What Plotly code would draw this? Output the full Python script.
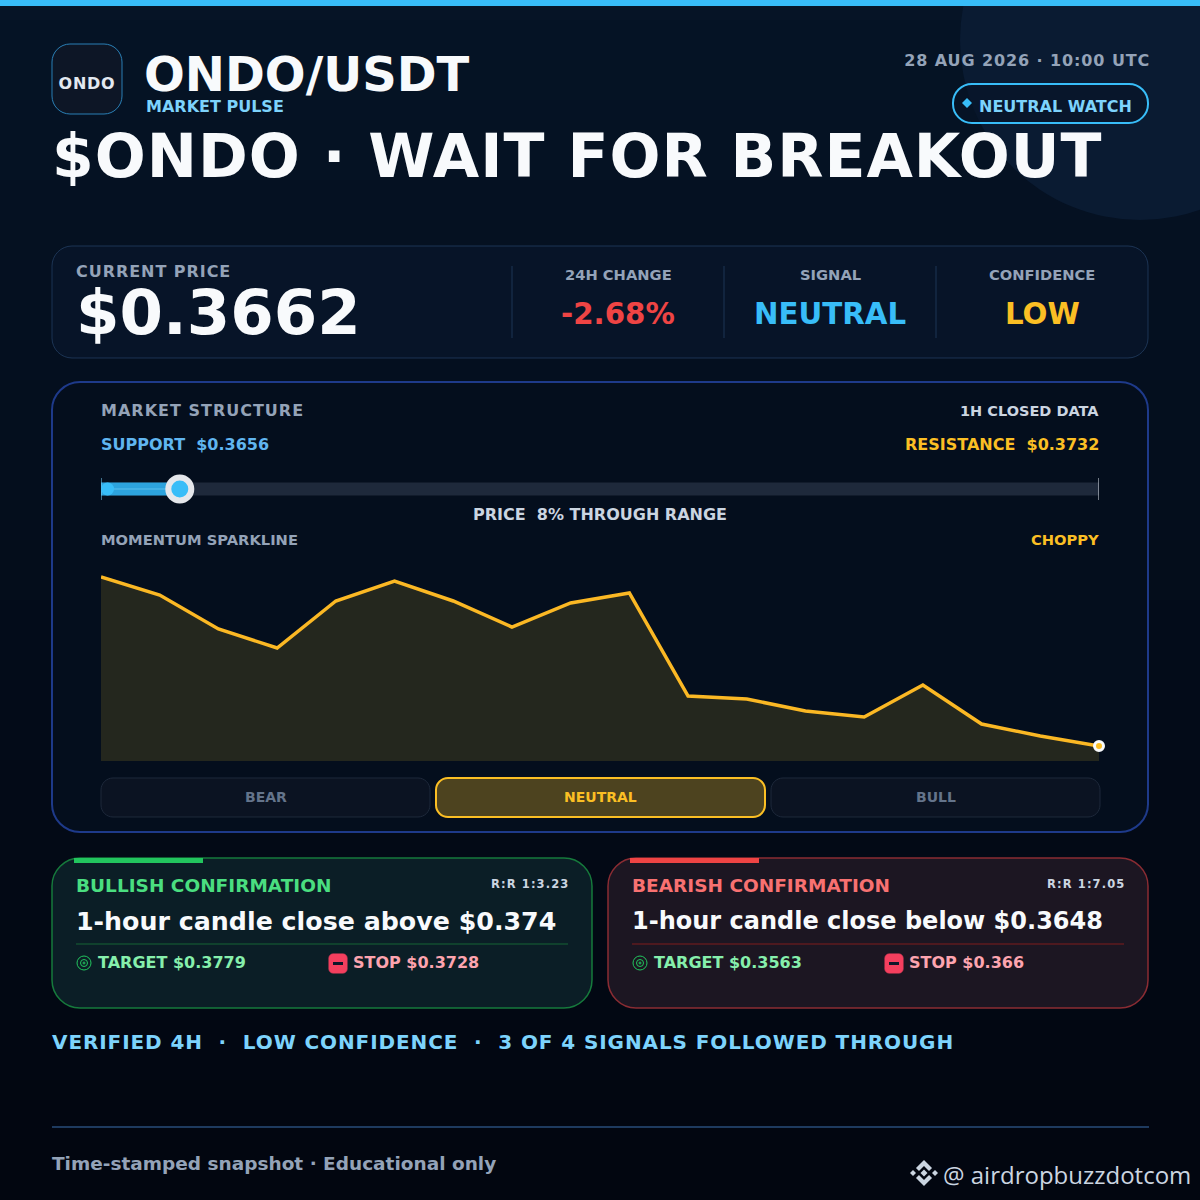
import json
import plotly.graph_objects as go

# values
pair = "ONDO/USDT"
headline = "$ONDO · WAIT FOR BREAKOUT"
stamp = "28 AUG 2026 · 10:00 UTC"
price = 0.3662
support = 0.3656
resistance = 0.3732
slider_start = 0.36565
change = "-2.68%"
range_pct = 8
momentum = [184, 166, 132, 113, 160, 180, 160, 134, 158, 168, 65, 62, 50, 44, 76, 37, 25, 15]
momentum_x = list(range(len(momentum)))
pills = ["BEAR", "NEUTRAL", "BULL"]
bull_levels = ["$0.374", "$0.3779", "$0.3728", "1:3.23"]
bear_levels = ["$0.3648", "$0.3563", "$0.366", "1:7.05"]

W = 1200
font = "DejaVu Sans"
shapes = []
notes = []
spacing = []


def px(x):
    return x / W


def py(y):
    return 1 - y / W


def rrect(x0, y0, x1, y1, r):
    k = r * 0.45
    pts = [
        ("M", x0 + r, y0), ("L", x1 - r, y0),
        ("C", x1 - k, y0, x1, y0 + k, x1, y0 + r), ("L", x1, y1 - r),
        ("C", x1, y1 - k, x1 - k, y1, x1 - r, y1), ("L", x0 + r, y1),
        ("C", x0 + k, y1, x0, y1 - k, x0, y1 - r), ("L", x0, y0 + r),
        ("C", x0, y0 + k, x0 + k, y0, x0 + r, y0),
    ]
    out = ""
    for p in pts:
        nums = p[1:]
        coords = []
        for i in range(0, len(nums), 2):
            coords.append("%.5f,%.5f" % (px(nums[i]), py(nums[i + 1])))
        out += p[0] + " ".join(coords) + " "
    return out + "Z"


def card(x0, y0, x1, y1, r, fill, line, lw=1):
    shapes.append(dict(type="path", path=rrect(x0, y0, x1, y1, r), xref="paper", yref="paper",
                       fillcolor=fill, line=dict(color=line, width=lw), layer="below"))


def box(x0, y0, x1, y1, fill):
    shapes.append(dict(type="rect", x0=px(x0), x1=px(x1), y0=py(y0), y1=py(y1), xref="paper", yref="paper",
                       fillcolor=fill, line=dict(width=0), layer="below"))


def hline(x0, y0, x1, y1, color, lw=1):
    shapes.append(dict(type="line", x0=px(x0), x1=px(x1), y0=py(y0), y1=py(y1), xref="paper", yref="paper",
                       line=dict(color=color, width=lw), layer="below"))


def circle(cx, cy, r, fill="rgba(0,0,0,0)", line=None, lw=1):
    shapes.append(dict(type="circle", x0=px(cx - r), x1=px(cx + r), y0=py(cy + r), y1=py(cy - r),
                       xref="paper", yref="paper", fillcolor=fill,
                       line=dict(color=line or fill, width=lw if line else 0), layer="below"))


def poly(points, fill):
    path = "M" + " L".join("%.5f,%.5f" % (px(x), py(y)) for x, y in points) + " Z"
    shapes.append(dict(type="path", path=path, xref="paper", yref="paper", fillcolor=fill,
                       line=dict(width=0), layer="below"))


def diamond(cx, cy, r, fill):
    poly([(cx, cy - r), (cx + r, cy), (cx, cy + r), (cx - r, cy)], fill)


def label(x, y, text, size, color, anchor="left", weight=700, family=font, ls=0):
    notes.append(dict(x=px(x), y=py(y), xref="paper", yref="paper", text=text, showarrow=False,
                      xanchor=anchor, yanchor="middle", borderpad=0, borderwidth=0,
                      font=dict(family=family, size=size, color=color, weight=weight)))
    spacing.append([ls, anchor])


# background
bands = 60
for i in range(bands):
    t = i / (bands - 1)
    c = "rgb(%d,%d,%d)" % (6 - 4 * t, 20 - 14 * t, 38 - 22 * t)
    box(0, i * 20, W, (i + 1) * 20 + 1, c)
circle(1140, 40, 180, "#0a1b32")
box(0, 0, W, 6, "#38bdf8")

# header
card(52, 44, 122, 114, 18, "#0d1626", "#2a7fb5")
label(87, 83, "ONDO", 16, "#e2e8f0", "center", ls=0.7)
label(144, 74, pair, 48, "#f8fafc")
label(146, 106, "MARKET PULSE", 16, "#7dd3fc")
label(52, 156, headline, 60, "#f8fafc", ls=1)
label(1149, 60, stamp, 16, "#94a3b8", "right", ls=0.9)
card(953, 84, 1148, 123, 19, "rgba(7,20,38,0.6)", "#38bdf8", 2)
diamond(967, 103, 5, "#38bdf8")
label(979, 106, "NEUTRAL WATCH", 16, "#7dd3fc")

# price strip
card(52, 246, 1148, 358, 20, "#071428", "#1c3454")
label(76, 271, "CURRENT PRICE", 16, "#94a3b8", ls=0.95)
label(76, 312, "$%.4f" % price, 62.5, "#f8fafc")
for x in [512, 724, 936]:
    hline(x, 266, x, 338, "#1c3454")
label(618, 275, "24H CHANGE", 14.7, "#94a3b8", "center")
label(618, 314, change, 29.3, "#ef4444", "center")
label(830, 275, "SIGNAL", 14.7, "#94a3b8", "center")
label(830, 314, "NEUTRAL", 29.3, "#38bdf8", "center")
label(1042, 275, "CONFIDENCE", 14.7, "#94a3b8", "center")
label(1042, 314, "LOW", 29.3, "#fbbf24", "center")

# market structure
card(52, 382, 1148, 832, 28, "#040e1d", "#1e3a8a", 2)
label(101, 410, "MARKET STRUCTURE", 16, "#94a3b8", ls=1)
label(1099, 411, "1H CLOSED DATA", 14.5, "#cbd5e1", "right")
label(101, 444, "SUPPORT  $%.4f" % support, 16, "#60b5f0")
label(1099, 444, "RESISTANCE  $%.4f" % resistance, 16, "#fbbf24", "right")
label(600, 514, "PRICE  %d%% THROUGH RANGE" % range_pct, 16, "#cbd5e1", "center")
label(101, 539.5, "MOMENTUM SPARKLINE", 14.7, "#94a3b8")
label(1099, 539.5, "CHOPPY", 14.7, "#fbbf24", "right")

# state pills
pill_x = [(101, 430), (436, 765), (771, 1100)]
for name, (x0, x1) in zip(pills, pill_x):
    if name == "NEUTRAL":
        card(x0, 778, x1, 817, 12, "#4d431f", "#fbbf24", 2)
        label((x0 + x1) / 2, 797, name, 14, "#fbbf24", "center")
    else:
        card(x0, 778, x1, 817, 12, "#0b1322", "#1e293b")
        label((x0 + x1) / 2, 797, name, 14, "#64748b", "center")


def confirm(x0, title, cond, csize, levels, fill, line, stripe, tcolor, divider):
    card(x0, 858, x0 + 540, 1008, 28, fill, line, 1.5)
    box(x0 + 22, 858, x0 + 151, 863, stripe)
    label(x0 + 24, 885, title, 18.5, tcolor)
    label(x0 + 516, 884, "R:R " + levels[3], 11.5, "#cbd5e1", "right", ls=1.1)
    label(x0 + 24, 921, "1-hour candle close %s %s" % (cond, levels[0]), csize, "#f8fafc")
    hline(x0 + 24, 944, x0 + 516, 944, divider)
    circle(x0 + 32, 963, 7, line="#22c55e")
    circle(x0 + 32, 963, 3.5, line="#22c55e")
    hline(x0 + 30.5, 963, x0 + 33.5, 963, "#22c55e")
    hline(x0 + 32, 961.5, x0 + 32, 964.5, "#22c55e")
    label(x0 + 46, 962, "TARGET " + levels[1], 16, "#86efac")
    card(x0 + 277, 954, x0 + 295, 973, 4, "#f43f5e", "#f43f5e")
    box(x0 + 281, 962, x0 + 291, 965, "#0f172a")
    label(x0 + 301, 962, "STOP " + levels[2], 16, "#fda4af")


confirm(52, "BULLISH CONFIRMATION", "above", 25.3, bull_levels, "#0b1e26", "#167a3c", "#22c55e", "#4ade80", "#166534")
confirm(608, "BEARISH CONFIRMATION", "below", 24, bear_levels, "#1c1622", "#8a2c33", "#ef4444", "#f87171", "#7f1d1d")

# footer
label(52, 1042, "VERIFIED 4H  ·  LOW CONFIDENCE  ·  3 OF 4 SIGNALS FOLLOWED THROUGH", 20, "#7dd3fc", ls=0.9)
hline(52, 1127, 1149, 1127, "#1e3a5f", 2)
label(52, 1163, "Time-stamped snapshot · Educational only", 18.5, "#94a3b8")
label(943, 1174, "@ airdropbuzzdotcom", 24, "#cbd5e1", weight=400, family="Open Sans")

# exchange logo
logo = "#cbd5e1"
poly([(924, 1160), (932, 1168), (929, 1171), (924, 1166), (919, 1171), (916, 1168)], logo)
poly([(924, 1186), (932, 1178), (929, 1175), (924, 1180), (919, 1175), (916, 1178)], logo)
diamond(924, 1173, 3.5, logo)
diamond(913, 1173, 3, logo)
diamond(935, 1173, 3, logo)

fig = go.Figure()

# sparkline
fig.add_trace(go.Scatter(x=momentum_x, y=momentum, mode="lines", fill="tozeroy", fillcolor="#24271e",
                         line=dict(color="#fbb824", width=3.5), xaxis="x", yaxis="y", cliponaxis=False))
fig.add_trace(go.Scatter(x=momentum_x[-1:], y=momentum[-1:], mode="markers", cliponaxis=False, xaxis="x", yaxis="y",
                         marker=dict(size=9, color="#fbbf24", line=dict(color="#f8fafc", width=3))))

# range slider
fig.add_trace(go.Scatter(x=[support, resistance], y=[0.5, 0.5], mode="lines", line=dict(color="#1e293b", width=13),
                         xaxis="x2", yaxis="y2", cliponaxis=False))
fig.add_trace(go.Scatter(x=[support, price], y=[0.5, 0.5], mode="lines", line=dict(color="#2da3dd", width=13),
                         xaxis="x2", yaxis="y2", cliponaxis=False))
fig.add_trace(go.Scatter(x=[support, price], y=[0.5, 0.5], mode="lines",
                         line=dict(color="#5cc0ee", width=1),
                         xaxis="x2", yaxis="y2", cliponaxis=False))
fig.add_trace(go.Scatter(x=[support, support], y=[0, 1], mode="lines", line=dict(color="#7dd3fc", width=1),
                         xaxis="x2", yaxis="y2", cliponaxis=False))
fig.add_trace(go.Scatter(x=[resistance, resistance], y=[0, 1], mode="lines", line=dict(color="#e2e8f0", width=1),
                         xaxis="x2", yaxis="y2", cliponaxis=False))
fig.add_trace(go.Scatter(x=[slider_start], y=[0.5], mode="markers", marker=dict(size=13, color="#38bdf8"),
                         xaxis="x2", yaxis="y2", cliponaxis=False))
fig.add_trace(go.Scatter(x=[price], y=[0.5], mode="markers", xaxis="x2", yaxis="y2", cliponaxis=False,
                         marker=dict(size=23, color="#38bdf8", line=dict(color="#e5e7eb", width=6))))

off = dict(visible=False, fixedrange=True)
fig.update_layout(
    width=W, height=W, margin=dict(l=0, r=0, t=0, b=0), showlegend=False,
    paper_bgcolor="#030a18", plot_bgcolor="rgba(0,0,0,0)",
    shapes=shapes, annotations=notes,
    xaxis=dict(domain=[px(101), px(1099)], range=[0, 17], **off),
    yaxis=dict(domain=[py(761), py(561)], range=[0, 200], **off),
    xaxis2=dict(domain=[px(101), px(1099)], range=[support, resistance], anchor="y2", **off),
    yaxis2=dict(domain=[py(500), py(478)], range=[0, 1], anchor="x2", **off),
)

# plotly has no letter-spacing option, so it is set on the drawn annotation texts
post = """
document.body.style.margin='0';document.body.style.overflow='hidden';
var sp=%s;
setTimeout(function(){
  document.querySelectorAll('.annotation').forEach(function(a,i){
    var s=sp[i],t=a.querySelector('text');
    if(!s||!s[0]||!t)return;
    var b0=t.getBBox();
    t.style.letterSpacing=s[0]+'px';
    var b1=t.getBBox(),dx=b0.x-b1.x;
    if(s[1]=='right')dx=b0.x+b0.width-b1.x-b1.width+s[0];
    if(s[1]=='center')dx=b0.x+b0.width/2-b1.x-b1.width/2;
    t.setAttribute('transform',(t.getAttribute('transform')||'')+' translate('+dx+',0)');
  });
},30);
""" % json.dumps(spacing)
fig.write_html("out.html", post_script=post, config=dict(displayModeBar=False))
